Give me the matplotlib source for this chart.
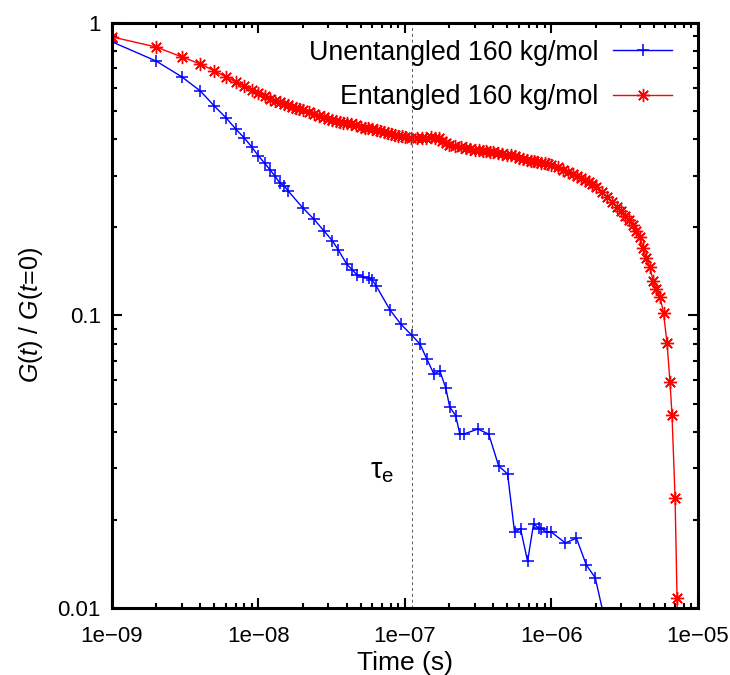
import matplotlib
matplotlib.use("Agg")
import matplotlib.pyplot as plt
from matplotlib.ticker import LogLocator, NullFormatter, FixedLocator

plt.rcParams['font.family'] = ['Liberation Sans', 'DejaVu Sans']
plt.rcParams['mathtext.fontset'] = 'custom'
plt.rcParams['mathtext.rm'] = 'Liberation Sans'
plt.rcParams['mathtext.it'] = 'Liberation Sans:italic'

# Stress relaxation, unentangled melt (time in s, normalised modulus)
t_unent = [1.0e-9, 2.0e-9, 3.0e-9, 4.0e-9, 5.0e-9, 6.0e-9, 7.0e-9, 8.0e-9, 9.0e-9,
           1.0e-8, 1.1e-8, 1.2e-8, 1.3e-8, 1.4e-8, 1.5e-8, 1.6e-8, 2.0e-8, 2.4e-8,
           2.8e-8, 3.2e-8, 3.5e-8, 4.0e-8, 4.36e-8, 4.71e-8, 5.18e-8, 5.69e-8,
           5.97e-8, 6.35e-8, 7.91e-8, 9.4e-8, 1.116e-7, 1.265e-7, 1.41e-7, 1.575e-7,
           1.73e-7, 1.9e-7, 2.02e-7, 2.22e-7, 2.37e-7, 2.52e-7, 3.14e-7, 3.73e-7,
           4.36e-7, 5.02e-7, 5.6e-7, 6.15e-7, 6.87e-7, 7.55e-7, 8.16e-7, 8.55e-7,
           9.25e-7, 1.0e-6, 1.245e-6, 1.48e-6, 1.73e-6, 1.99e-6, 2.3e-6]
g_unent = [0.862, 0.741, 0.654, 0.586, 0.520, 0.474, 0.434, 0.4045, 0.3765,
           0.351, 0.332, 0.3146, 0.299, 0.2835, 0.277, 0.266, 0.2337, 0.213,
           0.1945, 0.180, 0.1677, 0.1499, 0.1433, 0.1376, 0.1355, 0.1343,
           0.1320, 0.1263, 0.1044, 0.0932, 0.0855, 0.0799, 0.0710, 0.0631,
           0.0646, 0.0565, 0.0487, 0.0454, 0.0393, 0.0393, 0.0409, 0.0393,
           0.0306, 0.0287, 0.01816, 0.01867, 0.01445, 0.01939, 0.01877, 0.01867,
           0.01816, 0.01816, 0.01668, 0.01733, 0.01403, 0.01268, 0.0092]

# Stress relaxation, entangled melt
t_ent = [1.0e-9, 2.0e-9, 3.0e-9, 4.0e-9, 5.0e-9, 6.0e-9, 7.0e-9, 8.0e-9, 9.0e-9,
         1.0e-8, 1.1e-8, 1.2e-8, 1.3e-8, 1.4e-8, 1.5e-8, 1.6e-8, 1.7e-8, 1.8e-8, 1.9e-8,
         2.0e-8, 2.2e-8, 2.4e-8, 2.6e-8, 2.8e-8, 3.0e-8, 3.2e-8, 3.4e-8, 3.6e-8, 3.8e-8,
         4.0e-8, 4.3e-8, 4.6e-8, 5.0e-8, 5.3e-8, 5.6e-8, 6.0e-8, 6.4e-8, 6.8e-8, 7.2e-8,
         7.6e-8, 8.0e-8, 8.5e-8, 9.0e-8, 9.5e-8,
         1.0e-7, 1.1e-7, 1.2e-7, 1.3e-7, 1.4e-7, 1.5e-7, 1.6e-7, 1.7e-7, 1.8e-7, 1.9e-7,
         2.0e-7, 2.2e-7, 2.4e-7, 2.6e-7, 2.8e-7, 3.0e-7, 3.2e-7, 3.4e-7, 3.6e-7, 3.8e-7,
         4.0e-7, 4.3e-7, 4.6e-7, 5.0e-7, 5.3e-7, 5.6e-7, 6.0e-7, 6.4e-7, 6.8e-7, 7.2e-7,
         7.6e-7, 8.0e-7, 8.5e-7, 9.0e-7, 9.5e-7,
         1.0e-6, 1.1e-6, 1.2e-6, 1.3e-6, 1.4e-6, 1.5e-6, 1.6e-6, 1.7e-6, 1.8e-6, 1.9e-6,
         2.0e-6, 2.2e-6, 2.4e-6, 2.6e-6, 2.8e-6, 3.0e-6, 3.2e-6, 3.4e-6, 3.6e-6, 3.8e-6,
         4.0e-6, 4.23e-6, 4.43e-6, 4.71e-6, 4.94e-6, 5.18e-6, 5.51e-6, 5.82e-6, 6.15e-6,
         6.45e-6, 6.65e-6, 6.98e-6, 7.2e-6, 7.3e-6]
g_ent = [0.896, 0.8276, 0.7653, 0.7239, 0.6859, 0.6541, 0.6283, 0.6088, 0.5901,
         0.5768, 0.5625, 0.5500, 0.5420, 0.5349, 0.5286, 0.5232, 0.5179, 0.5134, 0.5080,
         0.5035, 0.4964, 0.4892, 0.4820, 0.4766, 0.4712, 0.4658, 0.4622, 0.4595, 0.4559,
         0.4542, 0.4497, 0.4461, 0.4416, 0.4388, 0.4361, 0.4325, 0.4289, 0.4262, 0.4226,
         0.4199, 0.4172, 0.4145, 0.4118, 0.4091,
         0.4063, 0.4036, 0.4027, 0.4036, 0.4054, 0.4063, 0.4054, 0.4027, 0.3964, 0.3883,
         0.3837, 0.3801, 0.3765, 0.3737, 0.3710, 0.3692, 0.3674, 0.3656, 0.3647, 0.3628,
         0.3619, 0.3592, 0.3574, 0.3547, 0.3529, 0.3501, 0.3465, 0.3428, 0.3401, 0.3383,
         0.3365, 0.3346, 0.3328, 0.3310, 0.3292,
         0.3274, 0.3210, 0.3146, 0.3082, 0.3036, 0.2991, 0.2954, 0.2908, 0.2862, 0.2816,
         0.2752, 0.2642, 0.2541, 0.2439, 0.2356, 0.2273, 0.2190, 0.2115, 0.2032, 0.1948,
         0.1855, 0.1702, 0.1574, 0.1461, 0.1310, 0.1234, 0.1158, 0.1020, 0.0804,
         0.0590, 0.0457, 0.0238, 0.0108, 0.0060]

tau_e = 1.11e-7

labels = ['Unentangled 160 kg/mol', 'Entangled 160 kg/mol']
x_ticks = [1e-9, 1e-8, 1e-7, 1e-6, 1e-5]
x_ticklabels = ['1e\u221209', '1e\u221208', '1e\u221207', '1e\u221206', '1e\u221205']
y_ticks = [0.01, 0.1, 1]
y_ticklabels = ['0.01', '0.1', '1']

fig = plt.figure(figsize=(7.30, 6.75), dpi=100)
ax = fig.add_axes([0.1534, 0.0993, 0.8027, 0.8667])

blue = '#0000ff'
red = '#ff0000'
h1, = ax.plot(t_unent, g_unent, color=blue, lw=1.0, marker='+', ms=9, mew=1.1)
h2, = ax.plot(t_ent, g_ent, color=red, lw=1.0, marker=(8, 2, 0), ms=9.5, mew=1.0)

ax.axvline(tau_e, color='0.35', lw=0.7, ls=(0, (3, 3)))
ax.text(7.0e-8, 0.0294, r'$\mathrm{\tau_e}$', fontsize=21, ha='center', va='center')

ax.set_xscale('log')
ax.set_yscale('log')
ax.set_xlim(1e-9, 1e-5)
ax.set_ylim(0.01, 1)

ax.xaxis.set_major_locator(FixedLocator(x_ticks))
ax.set_xticklabels(x_ticklabels)
ax.yaxis.set_major_locator(FixedLocator(y_ticks))
ax.set_yticklabels(y_ticklabels)
for axis in (ax.xaxis, ax.yaxis):
    axis.set_minor_locator(LogLocator(base=10, subs=range(2, 10), numticks=20))
    axis.set_minor_formatter(NullFormatter())

ax.tick_params(which='both', direction='in', top=True, right=True, width=1.5,
               labelsize=16)
ax.tick_params(which='major', length=7.2)
ax.tick_params(which='minor', length=3.6)
ax.tick_params(axis='x', pad=13)
ax.tick_params(axis='y', pad=8)
for s in ax.spines.values():
    s.set_linewidth(2.2)

ax.set_xlabel('Time (s)', fontsize=19, labelpad=3)
ax.set_ylabel(r'$G$($t$) / $G$($t$=0)', fontsize=18, labelpad=9)

leg1 = ax.legend([h1], [labels[0]], loc='center right', bbox_to_anchor=(0.956, 0.949),
                 frameon=False, markerfirst=False, fontsize=19.3, borderpad=0,
                 borderaxespad=0, handlelength=2.2, handletextpad=0.55)
ax.add_artist(leg1)
leg2 = ax.legend([h2], [labels[1]], loc='center right', bbox_to_anchor=(0.956, 0.8735),
                 frameon=False, markerfirst=False, fontsize=19.3, borderpad=0,
                 borderaxespad=0, handlelength=2.2, handletextpad=0.55)

fig.savefig('out.png', dpi=100)
